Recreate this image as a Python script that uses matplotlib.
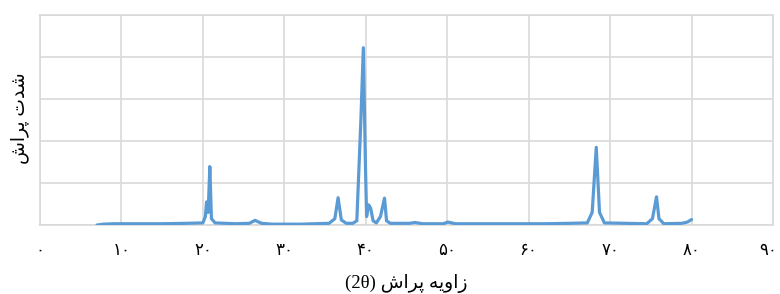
import numpy as np
import matplotlib.pyplot as plt
from matplotlib.transforms import ScaledTranslation

# XRD pattern (intensity in grid units, 0..5)
two_theta = [7.0, 7.8, 9.0, 12.0, 15.0, 18.0, 20.0, 20.3, 20.45, 20.65, 20.85, 21.05,
             21.5, 24.0, 25.7, 26.4, 27.2, 28.5, 32.0, 35.5, 36.2, 36.6, 37.0, 37.6,
             38.4, 38.9, 39.4, 39.7, 39.95, 40.1, 40.35, 40.6, 40.9, 41.3, 41.8, 42.3,
             42.55, 43.0, 45.4, 46.0, 47.0, 49.5, 50.1, 51.0, 58.0, 62.0, 65.0, 67.2,
             67.8, 68.3, 68.7, 69.3, 74.5, 75.2, 75.7, 76.0, 76.6, 78.8, 79.5, 80.0]
intensity = [0.0, 0.02, 0.03, 0.03, 0.03, 0.04, 0.05, 0.2, 0.55, 0.3, 1.39, 0.15,
             0.05, 0.03, 0.04, 0.11, 0.04, 0.02, 0.02, 0.04, 0.15, 0.65, 0.12, 0.04,
             0.04, 0.1, 2.5, 4.22, 1.5, 0.2, 0.48, 0.4, 0.1, 0.05, 0.2, 0.64,
             0.1, 0.04, 0.04, 0.06, 0.03, 0.03, 0.07, 0.03, 0.03, 0.03, 0.04, 0.05,
             0.3, 1.85, 0.3, 0.05, 0.03, 0.15, 0.67, 0.15, 0.03, 0.04, 0.07, 0.13]

x_ticks = [0, 10, 20, 30, 40, 50, 60, 70, 80, 90]
x_tick_labels = ['۰', '۱۰', '۲۰', '۳۰', '۴۰', '۵۰', '۶۰', '۷۰', '۸۰', '۹۰']

# Persian text, pre-shaped (presentation forms, visual order)
x_title = '(2θ) ' + '\uFEB5\uFE8D\uFEAE\uFB58' + ' ' + '\uFEEA\uFBFE\uFEED\uFE8D\uFEAF'
y_title = '\uFEB5\uFE8D\uFEAE\uFB58' + ' ' + '\uFE95\uFEAA\uFEB7'

fonts = ['Liberation Serif', 'DejaVu Sans']
grid_col = '#d9d9d9'

fig = plt.figure(figsize=(7.8, 2.94), dpi=100)
ax = fig.add_axes([0.0513, 0.2347, 0.9397, 0.7143])

ax.plot(two_theta, intensity, color='#5b9bd5', lw=2.3, solid_joinstyle='round',
        solid_capstyle='round', zorder=3)

ax.set_xlim(0, 90)
ax.set_ylim(0, 5)
ax.set_xticks(x_ticks)
ax.set_xticklabels(x_tick_labels, family=fonts, fontsize=12)
ax.set_yticks([0, 1, 2, 3, 4, 5])
ax.set_yticklabels([])
ax.tick_params(length=0, pad=13)
ax.grid(True, color=grid_col, lw=1.2)
ax.set_axisbelow(True)
for s in ax.spines.values():
    s.set_color(grid_col)
    s.set_linewidth(1.2)

# keep the last tick label inside the image
last = ax.get_xticklabels()[-1]
last.set_ha('right')
last.set_transform(last.get_transform() + ScaledTranslation(4 / 100, 0, fig.dpi_scale_trans))

ax.set_xlabel(x_title, family=fonts, fontsize=13.5, labelpad=11)
fig.text(20 / 780, 1 - 118 / 294, y_title, family=fonts, fontsize=13.5,
         rotation=90, ha='center', va='center')

fig.savefig('out.png', dpi=100)
